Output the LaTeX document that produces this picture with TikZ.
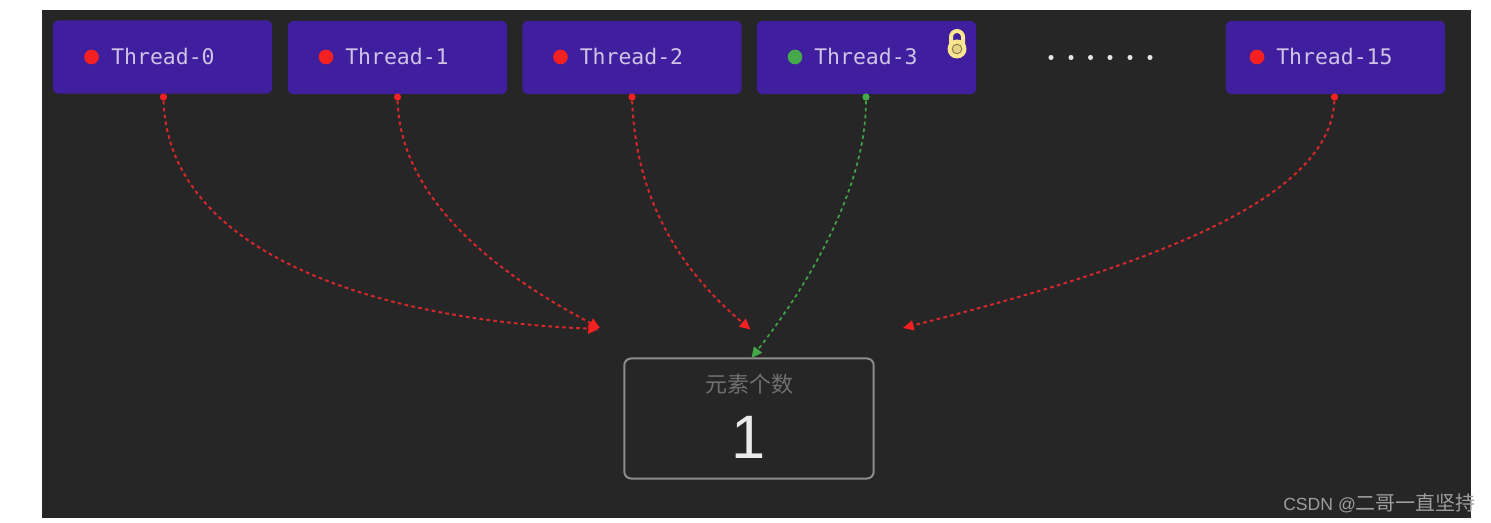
\documentclass[tikz,border=0pt]{standalone}
\usepackage{fontspec}
\setmainfont{Liberation Sans}
\setmonofont{DejaVu Sans Mono}
\newfontfamily\cjk{Noto Sans CJK SC}
\usetikzlibrary{arrows.meta}
\definecolor{bgdark}{HTML}{262626}
\definecolor{boxpurple}{HTML}{3F1F9E}
\definecolor{labelpurple}{HTML}{CFC3E6}
\definecolor{redline}{HTML}{F52022}
\definecolor{redthin}{HTML}{D6272B}
\definecolor{greenline}{HTML}{45A84A}
\definecolor{greenthin}{HTML}{42A048}
\definecolor{lockyellow}{HTML}{FBE58E}
\tikzset{
  x=0.75pt,y=-0.75pt,
  threadbox/.style={fill=boxpurple,rounded corners=4.5pt,minimum width=164.5pt,minimum height=55pt,inner sep=0pt},
  threadlabel/.style={text=labelpurple,font=\ttfamily\fontsize{16.1}{18}\selectfont,anchor=west,inner sep=0pt},
  statedot/.style={circle,minimum size=11pt,inner sep=0pt},
  startdot/.style={circle,minimum size=5.4pt,inner sep=0pt},
  link/.style={line width=1.5pt,dash pattern=on 2.7pt off 2.5pt},
  redlink/.style={link,redthin,-{Triangle[length=8pt,width=7.5pt,fill=redline,color=redline]}},
  greenlink/.style={link,greenthin,line width=1.3pt,-{Triangle[length=8pt,width=7.5pt,fill=greenline,color=greenline]}},
  whitedot/.style={circle,fill=white!90!black,minimum size=3.8pt,inner sep=0pt},
}
\begin{document}
\begin{tikzpicture}
\useasboundingbox (0,0) rectangle (1491,523);
\fill[bgdark] (42,10) rectangle (1471,518);
% thread boxes
\node[threadbox] (t0) at (162.5,57) {};
\node[threadbox] (t1) at (397.5,57.5) {};
\node[threadbox] (t2) at (632,57.5) {};
\node[threadbox] (t3) at (866.5,57.5) {};
\node[threadbox] (t15) at (1335.5,57.5) {};
\node[statedot,fill=redline] (d0) at (91.5,57) {};
\node[statedot,fill=redline] (d1) at (326,57) {};
\node[statedot,fill=redline] (d2) at (560.5,57) {};
\node[statedot,fill=greenline] (d3) at (795,57) {};
\node[statedot,fill=redline] (d15) at (1257,57) {};
\node[threadlabel] (l0) at (111,57) {Thread-0};
\node[threadlabel] (l1) at (345,57) {Thread-1};
\node[threadlabel] (l2) at (579.5,57) {Thread-2};
\node[threadlabel] (l3) at (814,57) {Thread-3};
\node[threadlabel] (l15) at (1276,57) {Thread-15};
% lock
\draw[lockyellow,line width=3pt] (951,46) -- (951,37) arc[start angle=180,end angle=360,radius=6] -- (963,46);
\fill[lockyellow] (957,49) circle[radius=9.5];
\draw[black!45!lockyellow,line width=0.7pt,fill=lockyellow!92!black] (957,49) circle[radius=4.8];
% dots
\foreach \n/\x in {a/1051,b/1071,c/1090.5,e/1110,f/1130,g/1150}
  \node[whitedot] (dot\n) at (\x,57.5) {};
% counter
\node[draw=white!55!black,line width=1.5pt,rounded corners=5pt,minimum width=187pt,minimum height=90pt,inner sep=0pt] (counter) at (749,418.5) {};
\node[text=white!44!black,font=\cjk\fontsize{16.5}{20}\selectfont,inner sep=0pt] (title) at (749,384) {元素个数};
\node[text=white!92!black,font=\fontsize{46}{50}\selectfont,inner sep=0pt] (value) at (749,437) {1};
% connector ends
\coordinate (e0) at (599,329);
\coordinate (e1) at (600,328);
\coordinate (e2) at (750.5,329.5);
\coordinate (e15) at (903,328);
\coordinate (e3) at (751.5,358);
% start points
\node[startdot,fill=redline] (s0) at (163.5,97) {};
\node[startdot,fill=redline] (s1) at (397.5,97) {};
\node[startdot,fill=redline] (s2) at (632,97) {};
\node[startdot,fill=greenline] (s3) at (866,97) {};
\node[startdot,fill=redline] (s15) at (1334.5,97) {};
% connectors
\draw[redlink] (s0) .. controls (168,250) and (370,320) .. (e0);
\draw[redlink] (s1) .. controls (400,190) and (480,265) .. (e1);
\draw[redlink] (s2) .. controls (636,200) and (680,270) .. (e2);
\draw[greenlink] (s3) .. controls (866,180) and (818,272) .. (e3);
\draw[redlink] (s15) .. controls (1330,205) and (1130,270) .. (e15);
% watermark
\node[text=white!62!black,font=\fontsize{13.2}{16}\selectfont,anchor=west,inner sep=0pt] (mark) at (1283,503) {CSDN @{\cjk\fontsize{15}{16}\selectfont 二哥一直坚持}};
\end{tikzpicture}
\end{document}
